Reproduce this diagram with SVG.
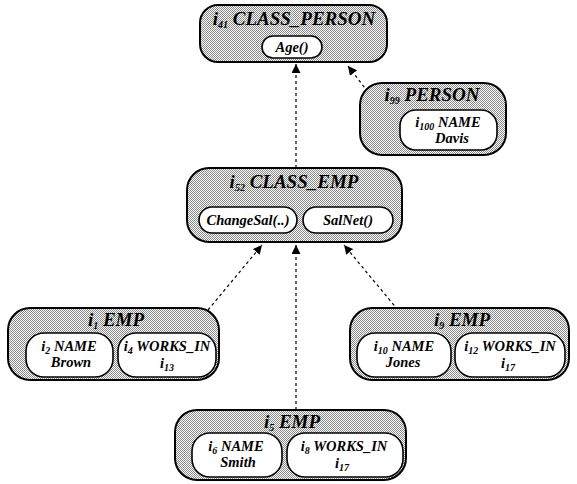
<svg xmlns="http://www.w3.org/2000/svg" width="577" height="484" viewBox="0 0 577 484">
<defs>
<pattern id="dots" width="2" height="2" patternUnits="userSpaceOnUse">
<rect width="2" height="2" fill="#fff"/>
<rect x="0" y="0" width="1" height="1" fill="#888"/>
<rect x="1" y="1" width="1" height="1" fill="#888"/>
</pattern>
<marker id="arr" viewBox="0 0 10 10" refX="10" refY="5" markerWidth="9" markerHeight="9" orient="auto" markerUnits="userSpaceOnUse">
<path d="M0,0 L10,5 L0,10 z" fill="#000"/>
</marker>
</defs>
<style>
.outer{fill:url(#dots);stroke:#000;stroke-width:2}
.inner{fill:#fff;stroke:#000;stroke-width:1.6}
.t{font-family:"Liberation Serif",serif;font-style:italic;font-weight:bold;fill:#000;text-anchor:middle}
.title{font-size:19px}
.lbl{font-size:14.5px}
.conn{stroke:#000;stroke-width:1.2;stroke-dasharray:3,3;fill:none}
</style>
<g id="connectors">
<line class="conn" x1="296" y1="168" x2="296" y2="64" marker-end="url(#arr)"/>
<line class="conn" x1="368" y1="92" x2="348" y2="66" marker-end="url(#arr)"/>
<line class="conn" x1="208" y1="310" x2="262" y2="245" marker-end="url(#arr)"/>
<line class="conn" x1="296" y1="410" x2="296" y2="245" marker-end="url(#arr)"/>
<line class="conn" x1="398" y1="310" x2="344" y2="245" marker-end="url(#arr)"/>
</g>
<g id="class_person">
<rect class="outer" x="200" y="5" width="187" height="57" rx="18"/>
<text class="t title" x="294" y="25">i<tspan font-size="10" dy="3">41</tspan><tspan dy="-3"> CLASS_PERSON</tspan></text>
<rect class="inner" x="262" y="36" width="60" height="22" rx="11"/>
<text class="t lbl" x="292" y="52">Age()</text>
</g>
<g id="person">
<rect class="outer" x="360" y="83" width="146" height="72" rx="22"/>
<text class="t title" x="432" y="101">i<tspan font-size="10" dy="3">99</tspan><tspan dy="-3"> PERSON</tspan></text>
<rect class="inner" x="400" y="110" width="97" height="40" rx="16"/>
<text class="t lbl" x="448" y="127">i<tspan font-size="10" dy="3">100</tspan><tspan dy="-3"> NAME</tspan></text>
<text class="t lbl" x="452" y="143">Davis</text>
</g>
<g id="class_emp">
<rect class="outer" x="187" y="168" width="215" height="74" rx="22"/>
<text class="t title" x="294" y="188">i<tspan font-size="10" dy="3">52</tspan><tspan dy="-3"> CLASS_EMP</tspan></text>
<rect class="inner" x="199" y="207" width="98" height="26" rx="13"/>
<text class="t lbl" x="248" y="225">ChangeSal(..)</text>
<rect class="inner" x="303" y="207" width="90" height="26" rx="13"/>
<text class="t lbl" x="348" y="225">SalNet()</text>
</g>
<g id="emp1">
<rect class="outer" x="8" y="308" width="211" height="72" rx="22"/>
<text class="t title" x="116" y="326">i<tspan font-size="10" dy="3">1</tspan><tspan dy="-3"> EMP</tspan></text>
<rect class="inner" x="26" y="333" width="87" height="44" rx="18"/>
<text class="t lbl" x="69" y="351">i<tspan font-size="10" dy="3">2</tspan><tspan dy="-3">  NAME</tspan></text>
<text class="t lbl" x="71" y="367">Brown</text>
<rect class="inner" x="118" y="333" width="98" height="44" rx="18"/>
<text class="t lbl" x="167" y="351">i<tspan font-size="10" dy="3">4</tspan><tspan dy="-3">  WORKS_IN</tspan></text>
<text class="t lbl" x="167" y="368">i<tspan font-size="10" dy="3">13</tspan></text>
</g>
<g id="emp9">
<rect class="outer" x="350" y="308" width="219" height="72" rx="22"/>
<text class="t title" x="462" y="326">i<tspan font-size="10" dy="3">9</tspan><tspan dy="-3"> EMP</tspan></text>
<rect class="inner" x="357" y="333" width="94" height="44" rx="18"/>
<text class="t lbl" x="404" y="351">i<tspan font-size="10" dy="3">10</tspan><tspan dy="-3">  NAME</tspan></text>
<text class="t lbl" x="403" y="367">Jones</text>
<rect class="inner" x="455" y="333" width="110" height="44" rx="18"/>
<text class="t lbl" x="510" y="351">i<tspan font-size="10" dy="3">12</tspan><tspan dy="-3">  WORKS_IN</tspan></text>
<text class="t lbl" x="508" y="368">i<tspan font-size="10" dy="3">17</tspan></text>
</g>
<g id="emp5">
<rect class="outer" x="175" y="410" width="231" height="70" rx="22"/>
<text class="t title" x="292" y="428">i<tspan font-size="10" dy="3">5</tspan><tspan dy="-3"> EMP</tspan></text>
<rect class="inner" x="192" y="433" width="90" height="44" rx="18"/>
<text class="t lbl" x="236" y="451">i<tspan font-size="10" dy="3">6</tspan><tspan dy="-3"> NAME</tspan></text>
<text class="t lbl" x="238" y="467">Smith</text>
<rect class="inner" x="287" y="433" width="116" height="44" rx="18"/>
<text class="t lbl" x="344" y="451">i<tspan font-size="10" dy="3">8</tspan><tspan dy="-3"> WORKS_IN</tspan></text>
<text class="t lbl" x="342" y="468">i<tspan font-size="10" dy="3">17</tspan></text>
</g>
</svg>
